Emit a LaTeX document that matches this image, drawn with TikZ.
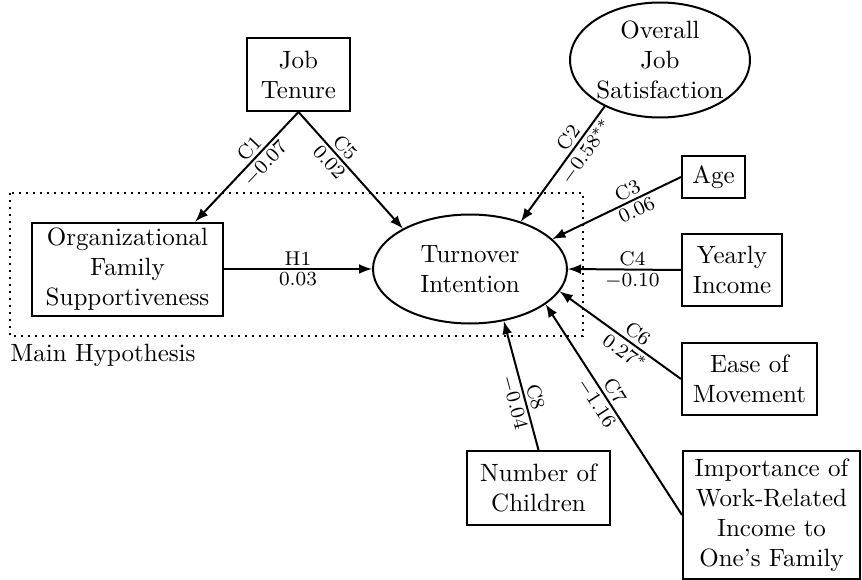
\documentclass[tikz,border=0pt]{standalone}
\usepackage{amsmath}
\usetikzlibrary{arrows,shapes}

\tikzset{
  box/.style={draw, thick, rectangle, align=center, inner sep=0pt},
  oval/.style={draw, thick, ellipse, align=center, inner sep=0pt},
  lab/.style={font=\footnotesize, sloped, inner sep=1.2pt}
}

\begin{document}
\begin{tikzpicture}[x=0.4pt, y=-0.4pt, >=latex]
 \useasboundingbox (0,0) rectangle (862,580);

 %main hypothesis frame
 \draw[ dotted, thick ] (10,193) rectangle (583,336);
 \node[ anchor=west, inner sep=0pt ] (mainhyp) at (10,355) {Main Hypothesis};

 %variables
 \node[ box, minimum width=103*0.4pt, minimum height=73*0.4pt ] (jobten) at (298.5,74.5) {Job\\Tenure};
 \node[ oval, minimum width=175*0.4pt, minimum height=115*0.4pt ] (ojs) at (660,60) {Overall\\Job\\Satisfaction};
 \node[ box, minimum width=191*0.4pt, minimum height=93*0.4pt ] (ofs) at (127.5,269) {Organizational\\Family\\Supportiveness};
 \node[ oval, minimum width=194*0.4pt, minimum height=109*0.4pt ] (ti) at (470,269) {Turnover\\Intention};
 \node[ box, minimum width=63*0.4pt, minimum height=42*0.4pt ] (age) at (713.5,177) {Age};
 \node[ box, minimum width=100*0.4pt, minimum height=72*0.4pt ] (inc) at (732,270) {Yearly\\Income};
 \node[ box, minimum width=135*0.4pt, minimum height=72*0.4pt ] (ease) at (749.5,379) {Ease of\\Movement};
 \node[ box, minimum width=177*0.4pt, minimum height=128*0.4pt ] (imp) at (771.5,515) {Importance of\\Work-Related\\Income to\\One's Family};
 \node[ box, minimum width=143*0.4pt, minimum height=74*0.4pt ] (nch) at (538.5,488) {Number of\\Children};

 % paths
 \foreach \src/\dst/\p/\up/\down in {
    jobten.south/ofs.35/0.4/C1/{$-0.07$},
    jobten.south/ti.149/0.37/C5/{$0.02$},
    ojs.220/ti.43/0.33/C2/{$-0.58^{**}$},
    age.west/ti.20/0.38/C3/{$0.06$},
    inc.west/ti.east/0.43/C4/{$-0.10$},
    ofs.east/ti.west/0.5/H1/{$0.03$},
    ease.west/ti.-14/0.41/C6/{$0.27^{*}$},
    imp.west/ti.-25/0.56/C7/{$-1.16$},
    nch.north/ti.-57/0.39/C8/{$-0.04$}}
 	\path[ draw, ->, thick ] (\src) -- (\dst) node[ lab, above, pos=\p ] {\up} node[ lab, below, pos=\p ] {\down};

\end{tikzpicture}
\end{document}
